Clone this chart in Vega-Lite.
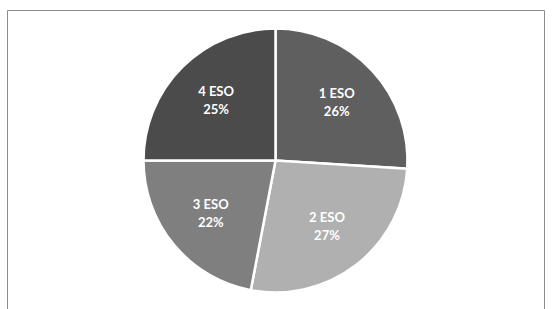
{
  "$schema": "https://vega.github.io/schema/vega-lite/v6.json",
  "autosize": {"type": "fit", "contains": "padding"},
  "width": 555,
  "height": 309,
  "padding": {"left": 7, "top": 10, "right": 11, "bottom": -2},
  "background": "white",
  "view": {"stroke": "#8c8c8c", "strokeWidth": 1, "fill": "white"},
  "data": {"values": [
    {"curso": "1 ESO", "share": 0.26, "orden": 1},
    {"curso": "2 ESO", "share": 0.27, "orden": 2},
    {"curso": "3 ESO", "share": 0.22, "orden": 3},
    {"curso": "4 ESO", "share": 0.25, "orden": 4}
  ]},
  "encoding": {
    "theta": {"field": "share", "type": "quantitative", "stack": true},
    "order": {"field": "orden", "type": "quantitative"}
  },
  "layer": [
    {
      "mark": {"type": "arc", "outerRadius": 132, "stroke": "white", "strokeWidth": 2.5},
      "encoding": {
        "color": {
          "field": "curso", "type": "nominal",
          "scale": {"domain": ["1 ESO", "2 ESO", "3 ESO", "4 ESO"], "range": ["#5f5f5f", "#b0b0b0", "#7f7f7f", "#4b4b4b"]},
          "legend": null
        }
      }
    },
    {
      "mark": {"type": "text", "radius": 84, "dy": -9, "font": "Lato", "fontWeight": "bold", "fontSize": 13, "color": "white"},
      "encoding": {"text": {"field": "curso", "type": "nominal"}}
    },
    {
      "mark": {"type": "text", "radius": 84, "dy": 9, "font": "Lato", "fontWeight": "bold", "fontSize": 13, "color": "white"},
      "encoding": {"text": {"field": "share", "type": "quantitative", "format": ".0%"}}
    }
  ]
}
